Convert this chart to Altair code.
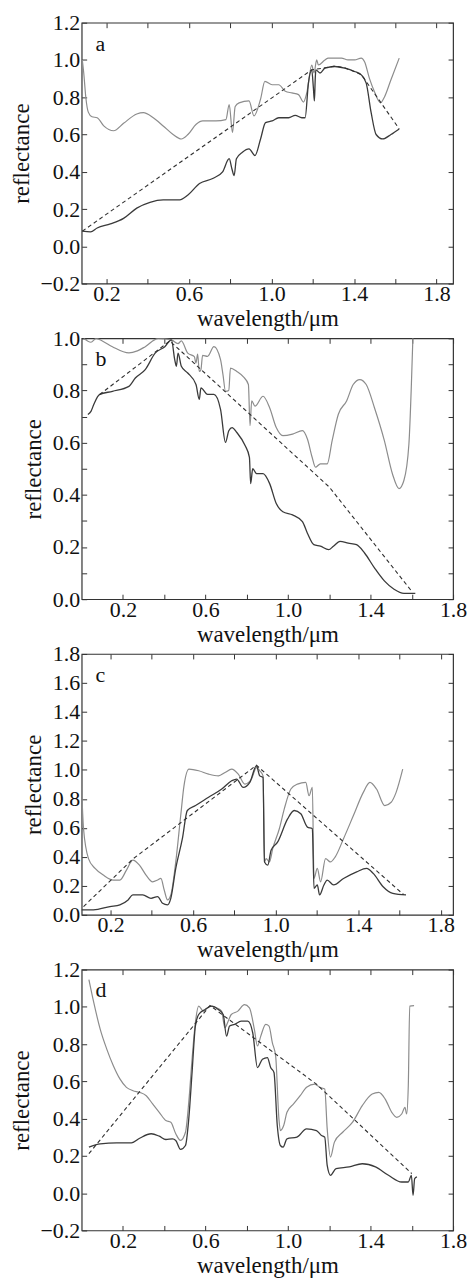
import altair as alt
import pandas as pd

SERIF = "Liberation Serif"
GRAY = "#8c8c8c"
DARK = "#3a3a3a"
HULL = "#2e2e2e"

letters = ["a", "b", "c", "d"]
x_label = "wavelength/\u03bcm"
y_label = "reflectance"

x_ticks = [0.2, 0.4, 0.6, 0.8, 1.0, 1.2, 1.4, 1.6, 1.8]
a_y_ticks = [-0.2, 0.0, 0.2, 0.4, 0.6, 0.8, 1.0, 1.2]
b_y_ticks = [0.0, 0.1, 0.2, 0.3, 0.4, 0.5, 0.6, 0.7, 0.8, 0.9, 1.0]
c_y_ticks = [0.0, 0.2, 0.4, 0.6, 0.8, 1.0, 1.2, 1.4, 1.6, 1.8]
d_y_ticks = [-0.2, 0.0, 0.2, 0.4, 0.6, 0.8, 1.0, 1.2]

a_x_domain = [0.08, 1.88]
b_x_domain = [0.0, 1.8]
c_x_domain = [0.06, 1.86]
d_x_domain = [0.0, 1.8]
a_y_domain = [-0.2, 1.2]
b_y_domain = [0.0, 1.0]
c_y_domain = [0.0, 1.8]
d_y_domain = [-0.2, 1.2]

# ---------------- panel a ----------------
a_gray = [(0.083, 1.0), (0.09, 0.93), (0.1, 0.80), (0.112, 0.72), (0.13, 0.695),
          (0.155, 0.69), (0.187, 0.646), (0.235, 0.62), (0.283, 0.66), (0.347, 0.71),
          (0.379, 0.717), (0.427, 0.69), (0.475, 0.646), (0.523, 0.60), (0.563, 0.576),
          (0.595, 0.60), (0.635, 0.655), (0.667, 0.673), (0.731, 0.673), (0.779, 0.68),
          (0.795, 0.76), (0.811, 0.61), (0.824, 0.75), (0.843, 0.77), (0.891, 0.78),
          (0.915, 0.70), (0.947, 0.79), (0.968, 0.885), (1.003, 0.867), (1.035, 0.867),
          (1.067, 0.832), (1.099, 0.823), (1.131, 0.814), (1.155, 0.774), (1.171, 0.823),
          (1.195, 0.973), (1.206, 0.93), (1.219, 1.0), (1.227, 0.973), (1.259, 1.0),
          (1.275, 1.01), (1.339, 1.01), (1.371, 1.0), (1.403, 1.0), (1.435, 1.01),
          (1.451, 0.99), (1.475, 0.90), (1.499, 0.83), (1.528, 0.77), (1.547, 0.80),
          (1.579, 0.894), (1.619, 1.01)]
a_dark = [(0.083, 0.081), (0.123, 0.077), (0.155, 0.098), (0.219, 0.12), (0.283, 0.15),
          (0.347, 0.205), (0.411, 0.236), (0.475, 0.249), (0.555, 0.249), (0.595, 0.275),
          (0.651, 0.337), (0.715, 0.364), (0.763, 0.40), (0.795, 0.47), (0.808, 0.416),
          (0.819, 0.38), (0.83, 0.47), (0.859, 0.505), (0.891, 0.523), (0.92, 0.487),
          (0.947, 0.576), (0.971, 0.664), (1.003, 0.673), (1.035, 0.69), (1.083, 0.69),
          (1.115, 0.703), (1.147, 0.69), (1.163, 0.69), (1.179, 0.876), (1.195, 0.947),
          (1.203, 0.85), (1.208, 0.78), (1.212, 0.9), (1.215, 0.947), (1.235, 0.93),
          (1.259, 0.956), (1.307, 0.965), (1.355, 0.956), (1.403, 0.938), (1.435, 0.92),
          (1.459, 0.876), (1.483, 0.717), (1.507, 0.60), (1.539, 0.576), (1.579, 0.60),
          (1.619, 0.63)]
a_hull = [(0.083, 0.081), (1.195, 0.947), (1.259, 0.958), (1.307, 0.967), (1.355, 0.958),
          (1.435, 0.922), (1.619, 0.63)]

# ---------------- panel b ----------------
b_gray = [(0.01, 1.0), (0.045, 0.985), (0.07, 1.0), (0.1, 0.99), (0.149, 0.968),
          (0.229, 0.944), (0.27, 0.952), (0.308, 0.968), (0.372, 1.0), (0.435, 0.994),
          (0.467, 0.98), (0.483, 0.99), (0.514, 0.943), (0.546, 0.93), (0.554, 0.905),
          (0.562, 0.94), (0.57, 0.873), (0.578, 0.88), (0.586, 0.935), (0.61, 0.931),
          (0.641, 0.968), (0.673, 0.918), (0.685, 0.86), (0.697, 0.797), (0.713, 0.80),
          (0.721, 0.886), (0.752, 0.873), (0.784, 0.852), (0.808, 0.823), (0.816, 0.665),
          (0.824, 0.76), (0.84, 0.74), (0.879, 0.778), (0.911, 0.734), (0.943, 0.658),
          (0.975, 0.627), (1.022, 0.633), (1.07, 0.646), (1.094, 0.614), (1.117, 0.544),
          (1.133, 0.506), (1.157, 0.519), (1.19, 0.519), (1.214, 0.608), (1.244, 0.709),
          (1.284, 0.76), (1.316, 0.823), (1.348, 0.842), (1.379, 0.823), (1.419, 0.734),
          (1.467, 0.608), (1.506, 0.481), (1.538, 0.424), (1.562, 0.456), (1.586, 0.595),
          (1.598, 0.823), (1.606, 1.02)]
b_dark = [(0.03, 0.708), (0.045, 0.72), (0.059, 0.747), (0.086, 0.784), (0.149, 0.797),
          (0.229, 0.816), (0.26, 0.848), (0.308, 0.88), (0.356, 0.943), (0.403, 0.968),
          (0.435, 0.994), (0.451, 0.918), (0.459, 0.893), (0.467, 0.943), (0.483, 0.893),
          (0.514, 0.867), (0.554, 0.823), (0.57, 0.766), (0.578, 0.81), (0.61, 0.785),
          (0.641, 0.785), (0.673, 0.728), (0.697, 0.601), (0.713, 0.646), (0.729, 0.658),
          (0.752, 0.639), (0.792, 0.589), (0.813, 0.544), (0.819, 0.443), (0.829, 0.5),
          (0.848, 0.481), (0.879, 0.481), (0.911, 0.443), (0.943, 0.367), (0.975, 0.335),
          (1.022, 0.323), (1.07, 0.297), (1.094, 0.253), (1.125, 0.209), (1.157, 0.203),
          (1.197, 0.19), (1.22, 0.203), (1.252, 0.222), (1.292, 0.215), (1.332, 0.209),
          (1.371, 0.177), (1.419, 0.12), (1.467, 0.07), (1.514, 0.038), (1.562, 0.022),
          (1.617, 0.022)]
b_hull = [(0.086, 0.784), (0.427, 0.99), (1.2, 0.43), (1.6, 0.03)]

# ---------------- panel c ----------------
c_gray = [(0.058, 0.94), (0.069, 0.594), (0.093, 0.388), (0.125, 0.32), (0.165, 0.274),
          (0.213, 0.24), (0.245, 0.24), (0.277, 0.308), (0.308, 0.377), (0.34, 0.343),
          (0.372, 0.274), (0.404, 0.228), (0.428, 0.24), (0.444, 0.251), (0.46, 0.171),
          (0.476, 0.103), (0.492, 0.137), (0.516, 0.365), (0.54, 0.685), (0.556, 0.891),
          (0.58, 1.005), (0.627, 0.994), (0.675, 0.971), (0.723, 0.959), (0.755, 0.982),
          (0.787, 1.005), (0.819, 0.971), (0.851, 0.902), (0.883, 0.937), (0.907, 1.016),
          (0.923, 0.994), (0.939, 0.959), (0.946, 0.365), (0.954, 0.388), (0.97, 0.365),
          (0.986, 0.457), (1.018, 0.594), (1.042, 0.731), (1.074, 0.868), (1.106, 0.902),
          (1.146, 0.914), (1.162, 0.822), (1.178, 0.879), (1.186, 0.251), (1.202, 0.32),
          (1.218, 0.228), (1.242, 0.388), (1.265, 0.365), (1.289, 0.40), (1.329, 0.525),
          (1.377, 0.685), (1.425, 0.845), (1.457, 0.914), (1.489, 0.868), (1.529, 0.754),
          (1.56, 0.777), (1.584, 0.845), (1.616, 1.005)]
c_dark = [(0.058, 0.034), (0.117, 0.034), (0.197, 0.057), (0.245, 0.069), (0.285, 0.103),
          (0.308, 0.137), (0.356, 0.137), (0.396, 0.114), (0.428, 0.126), (0.452, 0.08),
          (0.476, 0.069), (0.492, 0.114), (0.516, 0.32), (0.548, 0.525), (0.572, 0.72),
          (0.612, 0.754), (0.675, 0.811), (0.739, 0.868), (0.787, 0.925), (0.811, 0.937),
          (0.843, 0.879), (0.875, 0.914), (0.907, 1.028), (0.923, 0.959), (0.939, 0.948),
          (0.946, 0.365), (0.962, 0.343), (0.978, 0.445), (1.01, 0.503), (1.058, 0.662),
          (1.09, 0.72), (1.122, 0.697), (1.154, 0.605), (1.178, 0.594), (1.186, 0.183),
          (1.202, 0.206), (1.213, 0.137), (1.234, 0.206), (1.25, 0.24), (1.281, 0.206),
          (1.329, 0.251), (1.393, 0.297), (1.441, 0.32), (1.473, 0.286), (1.521, 0.194),
          (1.568, 0.148), (1.632, 0.137)]
c_hull = [(0.069, 0.057), (0.308, 0.385), (0.907, 1.032), (1.62, 0.14)]

# ---------------- panel d ----------------
d_gray = [(0.035, 1.146), (0.059, 1.021), (0.09, 0.879), (0.122, 0.772), (0.154, 0.683),
          (0.186, 0.612), (0.217, 0.568), (0.249, 0.55), (0.281, 0.541), (0.313, 0.523),
          (0.344, 0.479), (0.376, 0.434), (0.408, 0.39), (0.432, 0.381), (0.456, 0.319),
          (0.479, 0.283), (0.503, 0.327), (0.519, 0.488), (0.535, 0.719), (0.551, 0.915),
          (0.567, 1.004), (0.59, 0.977), (0.622, 1.004), (0.654, 0.995), (0.678, 0.977),
          (0.694, 0.888), (0.71, 0.923), (0.725, 0.959), (0.757, 0.977), (0.789, 1.012),
          (0.813, 0.995), (0.837, 0.879), (0.852, 0.79), (0.868, 0.843), (0.892, 0.906),
          (0.908, 0.897), (0.924, 0.808), (0.94, 0.737), (0.956, 0.399), (0.963, 0.336),
          (0.979, 0.363), (0.995, 0.434), (1.027, 0.479), (1.059, 0.523), (1.09, 0.568),
          (1.13, 0.585), (1.154, 0.568), (1.178, 0.559), (1.19, 0.345), (1.206, 0.194),
          (1.225, 0.274), (1.265, 0.327), (1.313, 0.381), (1.36, 0.47), (1.408, 0.532),
          (1.44, 0.541), (1.471, 0.505), (1.503, 0.434), (1.527, 0.407), (1.551, 0.425),
          (1.567, 0.461), (1.575, 0.425), (1.583, 0.577), (1.59, 1.004), (1.611, 1.007)]
d_dark = [(0.035, 0.247), (0.09, 0.265), (0.17, 0.27), (0.241, 0.27), (0.281, 0.295),
          (0.337, 0.319), (0.376, 0.306), (0.408, 0.288), (0.44, 0.292), (0.456, 0.283),
          (0.479, 0.235), (0.503, 0.256), (0.519, 0.399), (0.535, 0.648), (0.551, 0.897),
          (0.567, 0.959), (0.598, 0.986), (0.63, 1.004), (0.662, 0.986), (0.686, 0.959),
          (0.702, 0.843), (0.717, 0.897), (0.741, 0.906), (0.773, 0.923), (0.805, 0.923),
          (0.829, 0.861), (0.852, 0.674), (0.876, 0.719), (0.9, 0.728), (0.916, 0.674),
          (0.932, 0.648), (0.948, 0.363), (0.963, 0.256), (0.976, 0.247), (0.995, 0.292),
          (1.043, 0.301), (1.09, 0.345), (1.138, 0.336), (1.162, 0.31), (1.178, 0.301),
          (1.19, 0.149), (1.206, 0.096), (1.233, 0.132), (1.297, 0.141), (1.36, 0.158),
          (1.424, 0.141), (1.487, 0.096), (1.551, 0.06), (1.583, 0.06), (1.598, 0.096),
          (1.606, -0.011), (1.614, 0.078), (1.625, 0.087)]
d_hull = [(0.035, 0.212), (0.622, 1.007), (1.138, 0.585), (1.6, 0.105)]

XLAB = "abs(round(datum.value*10)) % 4 == 2 ? format(datum.value, '.1f') : ''"
YLAB_ALL = "format(datum.value, '.1f')"
YLAB_EVEN = "abs(round(datum.value*10)) % 2 == 0 ? format(datum.value, '.1f') : ''"

PLOT_W = 373
PLOT_H = 262


def to_df(pairs):
    return pd.DataFrame({"x": [p[0] for p in pairs],
                         "y": [p[1] for p in pairs],
                         "i": list(range(len(pairs)))})


def panel(letter, gray, dark, hull, xdom, ydom, yticks, ylab):
    xs = alt.Scale(domain=xdom, nice=False, zero=False)
    ys = alt.Scale(domain=ydom, nice=False, zero=False)
    ax_bottom = alt.Axis(orient="bottom", values=x_ticks, labelExpr=XLAB, title=x_label,
                         offset=-5, tickSize=5, domain=False, grid=False,
                         labelPadding=0, titlePadding=3, labelFlush=False,
                         labelOverlap=False)
    ax_top = alt.Axis(orient="top", values=x_ticks, labels=False, title="",
                      offset=-5, tickSize=5, domain=False, grid=False)
    ax_left = alt.Axis(orient="left", values=yticks, labelExpr=ylab, title=y_label,
                       offset=-5, tickSize=5, domain=False, grid=False,
                       labelPadding=2, titlePadding=7, labelOverlap=False)
    ax_right = alt.Axis(orient="right", values=yticks, labels=False, title="",
                        offset=-5, tickSize=5, domain=False, grid=False)

    g = alt.Chart(to_df(gray)).mark_line(color=GRAY, strokeWidth=1.2, clip=True,
                                         interpolate="monotone").encode(
        x=alt.X("x:Q", scale=xs, axis=ax_bottom),
        y=alt.Y("y:Q", scale=ys, axis=ax_left),
        order="i:Q")
    d = alt.Chart(to_df(dark)).mark_line(color=DARK, strokeWidth=1.3, clip=True,
                                         interpolate="monotone").encode(
        x=alt.X("x:Q", scale=xs, axis=ax_top),
        y=alt.Y("y:Q", scale=ys, axis=ax_right),
        order="i:Q")
    h = alt.Chart(to_df(hull)).mark_line(color=HULL, strokeWidth=1.1, strokeDash=[4, 3],
                                         clip=True).encode(
        x=alt.X("x:Q", scale=xs, axis=None),
        y=alt.Y("y:Q", scale=ys, axis=None),
        order="i:Q")
    t = alt.Chart(pd.DataFrame({"t": [letter]})).mark_text(
        align="left", baseline="alphabetic", font=SERIF, fontSize=22, color="#111").encode(
        text="t:N", x=alt.value(14), y=alt.value(28))
    return alt.layer(g, d, h, t).resolve_axis(x="independent", y="independent").properties(
        width=PLOT_W, height=PLOT_H)


pa = panel(letters[0], a_gray, a_dark, a_hull, a_x_domain, a_y_domain, a_y_ticks, YLAB_ALL)
pb = panel(letters[1], b_gray, b_dark, b_hull, b_x_domain, b_y_domain, b_y_ticks, YLAB_EVEN)
pc = panel(letters[2], c_gray, c_dark, c_hull, c_x_domain, c_y_domain, c_y_ticks, YLAB_ALL)
pd_ = panel(letters[3], d_gray, d_dark, d_hull, d_x_domain, d_y_domain, d_y_ticks, YLAB_ALL)

chart = alt.vconcat(pa, pb, pc, pd_, spacing=55, bounds="flush").properties(
    padding={"left": 1, "top": 0, "right": 0, "bottom": 0}
).configure_view(stroke="#333333", strokeWidth=1.2).configure_axis(
    labelFont=SERIF, titleFont=SERIF, labelFontSize=22, titleFontSize=23,
    titleFontWeight="normal", labelColor="#111111", titleColor="#111111",
    tickColor="#333333", tickWidth=1)

chart.save("out.html", embed_options={"renderer": "svg", "actions": False})
